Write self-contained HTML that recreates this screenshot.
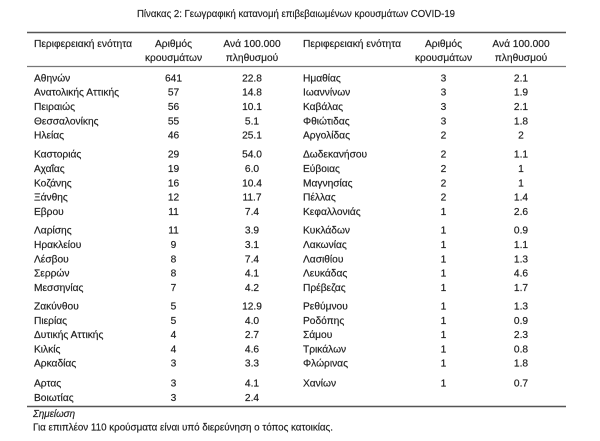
<!DOCTYPE html>
<html><head><meta charset="utf-8"><style>
html,body{margin:0;padding:0;background:#fff;}
svg{display:block;}
text{font-family:"Liberation Sans","DejaVu Sans",sans-serif;font-size:10.2px;fill:#1e1e1e;stroke:#1e1e1e;stroke-width:0.18px;}
.m{text-anchor:middle;}
</style></head><body>
<svg width="600" height="441" viewBox="0 0 600 441" xmlns="http://www.w3.org/2000/svg">
<text x="137" y="17" textLength="318" lengthAdjust="spacingAndGlyphs">Πίνακας 2: Γεωγραφική κατανομή επιβεβαιωμένων κρουσμάτων COVID-19</text>
<line x1="27" y1="32.5" x2="566" y2="32.5" stroke="#555" stroke-width="1.6"/>
<line x1="27" y1="66.5" x2="566" y2="66.5" stroke="#777" stroke-width="1.3"/>
<line x1="27" y1="406.5" x2="566" y2="406.5" stroke="#555" stroke-width="1.6"/>
<!-- headers -->
<text x="34" y="47" textLength="98" lengthAdjust="spacingAndGlyphs">Περιφερειακή ενότητα</text>
<text x="173.5" y="47" class="m">Αριθμός</text>
<text x="173.5" y="61" class="m">κρουσμάτων</text>
<text x="252" y="47" class="m">Ανά 100.000</text>
<text x="252" y="61" class="m">πληθυσμού</text>
<text x="303" y="47" textLength="98" lengthAdjust="spacingAndGlyphs">Περιφερειακή ενότητα</text>
<text x="443.5" y="47" class="m">Αριθμός</text>
<text x="443.5" y="61" class="m">κρουσμάτων</text>
<text x="521" y="47" class="m">Ανά 100.000</text>
<text x="521" y="61" class="m">πληθυσμού</text>
<!-- left rows -->
<g>
<text x="34" y="81.4">Αθηνών</text><text x="173.5" y="81.4" class="m">641</text><text x="252" y="81.4" class="m">22.8</text>
<text x="34" y="95.7">Ανατολικής Αττικής</text><text x="173.5" y="95.7" class="m">57</text><text x="252" y="95.7" class="m">14.8</text>
<text x="34" y="110">Πειραιώς</text><text x="173.5" y="110" class="m">56</text><text x="252" y="110" class="m">10.1</text>
<text x="34" y="124.3">Θεσσαλονίκης</text><text x="173.5" y="124.3" class="m">55</text><text x="252" y="124.3" class="m">5.1</text>
<text x="34" y="138.6">Ηλείας</text><text x="173.5" y="138.6" class="m">46</text><text x="252" y="138.6" class="m">25.1</text>

<text x="34" y="157.7">Καστοριάς</text><text x="173.5" y="157.7" class="m">29</text><text x="252" y="157.7" class="m">54.0</text>
<text x="34" y="172">Αχαΐας</text><text x="173.5" y="172" class="m">19</text><text x="252" y="172" class="m">6.0</text>
<text x="34" y="186.3">Κοζάνης</text><text x="173.5" y="186.3" class="m">16</text><text x="252" y="186.3" class="m">10.4</text>
<text x="34" y="200.6">Ξάνθης</text><text x="173.5" y="200.6" class="m">12</text><text x="252" y="200.6" class="m">11.7</text>
<text x="34" y="214.9">Εβρου</text><text x="173.5" y="214.9" class="m">11</text><text x="252" y="214.9" class="m">7.4</text>

<text x="34" y="233.7">Λαρίσης</text><text x="173.5" y="233.7" class="m">11</text><text x="252" y="233.7" class="m">3.9</text>
<text x="34" y="248">Ηρακλείου</text><text x="173.5" y="248" class="m">9</text><text x="252" y="248" class="m">3.1</text>
<text x="34" y="262.3">Λέσβου</text><text x="173.5" y="262.3" class="m">8</text><text x="252" y="262.3" class="m">7.4</text>
<text x="34" y="276.6">Σερρών</text><text x="173.5" y="276.6" class="m">8</text><text x="252" y="276.6" class="m">4.1</text>
<text x="34" y="290.9">Μεσσηνίας</text><text x="173.5" y="290.9" class="m">7</text><text x="252" y="290.9" class="m">4.2</text>

<text x="34" y="309.5">Ζακύνθου</text><text x="173.5" y="309.5" class="m">5</text><text x="252" y="309.5" class="m">12.9</text>
<text x="34" y="323.8">Πιερίας</text><text x="173.5" y="323.8" class="m">5</text><text x="252" y="323.8" class="m">4.0</text>
<text x="34" y="338.1">Δυτικής Αττικής</text><text x="173.5" y="338.1" class="m">4</text><text x="252" y="338.1" class="m">2.7</text>
<text x="34" y="352.4">Κιλκίς</text><text x="173.5" y="352.4" class="m">4</text><text x="252" y="352.4" class="m">4.6</text>
<text x="34" y="366.7">Αρκαδίας</text><text x="173.5" y="366.7" class="m">3</text><text x="252" y="366.7" class="m">3.3</text>

<text x="34" y="386.5">Αρτας</text><text x="173.5" y="386.5" class="m">3</text><text x="252" y="386.5" class="m">4.1</text>
<text x="34" y="400.8">Βοιωτίας</text><text x="173.5" y="400.8" class="m">3</text><text x="252" y="400.8" class="m">2.4</text>
</g>
<!-- right rows -->
<g>
<text x="303" y="81.4">Ημαθίας</text><text x="443.5" y="81.4" class="m">3</text><text x="521" y="81.4" class="m">2.1</text>
<text x="303" y="95.7">Ιωαννίνων</text><text x="443.5" y="95.7" class="m">3</text><text x="521" y="95.7" class="m">1.9</text>
<text x="303" y="110">Καβάλας</text><text x="443.5" y="110" class="m">3</text><text x="521" y="110" class="m">2.1</text>
<text x="303" y="124.3">Φθιώτιδας</text><text x="443.5" y="124.3" class="m">3</text><text x="521" y="124.3" class="m">1.8</text>
<text x="303" y="138.6">Αργολίδας</text><text x="443.5" y="138.6" class="m">2</text><text x="521" y="138.6" class="m">2</text>

<text x="303" y="157.7">Δωδεκανήσου</text><text x="443.5" y="157.7" class="m">2</text><text x="521" y="157.7" class="m">1.1</text>
<text x="303" y="172">Εύβοιας</text><text x="443.5" y="172" class="m">2</text><text x="521" y="172" class="m">1</text>
<text x="303" y="186.3">Μαγνησίας</text><text x="443.5" y="186.3" class="m">2</text><text x="521" y="186.3" class="m">1</text>
<text x="303" y="200.6">Πέλλας</text><text x="443.5" y="200.6" class="m">2</text><text x="521" y="200.6" class="m">1.4</text>
<text x="303" y="214.9">Κεφαλλονιάς</text><text x="443.5" y="214.9" class="m">1</text><text x="521" y="214.9" class="m">2.6</text>

<text x="303" y="233.7">Κυκλάδων</text><text x="443.5" y="233.7" class="m">1</text><text x="521" y="233.7" class="m">0.9</text>
<text x="303" y="248">Λακωνίας</text><text x="443.5" y="248" class="m">1</text><text x="521" y="248" class="m">1.1</text>
<text x="303" y="262.3">Λασιθίου</text><text x="443.5" y="262.3" class="m">1</text><text x="521" y="262.3" class="m">1.3</text>
<text x="303" y="276.6">Λευκάδας</text><text x="443.5" y="276.6" class="m">1</text><text x="521" y="276.6" class="m">4.6</text>
<text x="303" y="290.9">Πρέβεζας</text><text x="443.5" y="290.9" class="m">1</text><text x="521" y="290.9" class="m">1.7</text>

<text x="303" y="309.5">Ρεθύμνου</text><text x="443.5" y="309.5" class="m">1</text><text x="521" y="309.5" class="m">1.3</text>
<text x="303" y="323.8">Ροδόπης</text><text x="443.5" y="323.8" class="m">1</text><text x="521" y="323.8" class="m">0.9</text>
<text x="303" y="338.1">Σάμου</text><text x="443.5" y="338.1" class="m">1</text><text x="521" y="338.1" class="m">2.3</text>
<text x="303" y="352.4">Τρικάλων</text><text x="443.5" y="352.4" class="m">1</text><text x="521" y="352.4" class="m">0.8</text>
<text x="303" y="366.7">Φλώρινας</text><text x="443.5" y="366.7" class="m">1</text><text x="521" y="366.7" class="m">1.8</text>

<text x="303" y="386.5">Χανίων</text><text x="443.5" y="386.5" class="m">1</text><text x="521" y="386.5" class="m">0.7</text>
</g>
<text x="33" y="417" font-style="italic" textLength="42" lengthAdjust="spacingAndGlyphs">Σημείωση</text>
<text x="33" y="430.5" textLength="300" lengthAdjust="spacingAndGlyphs">Για επιπλέον 110 κρούσματα είναι υπό διερεύνηση ο τόπος κατοικίας.</text>
</svg>
</body></html>
